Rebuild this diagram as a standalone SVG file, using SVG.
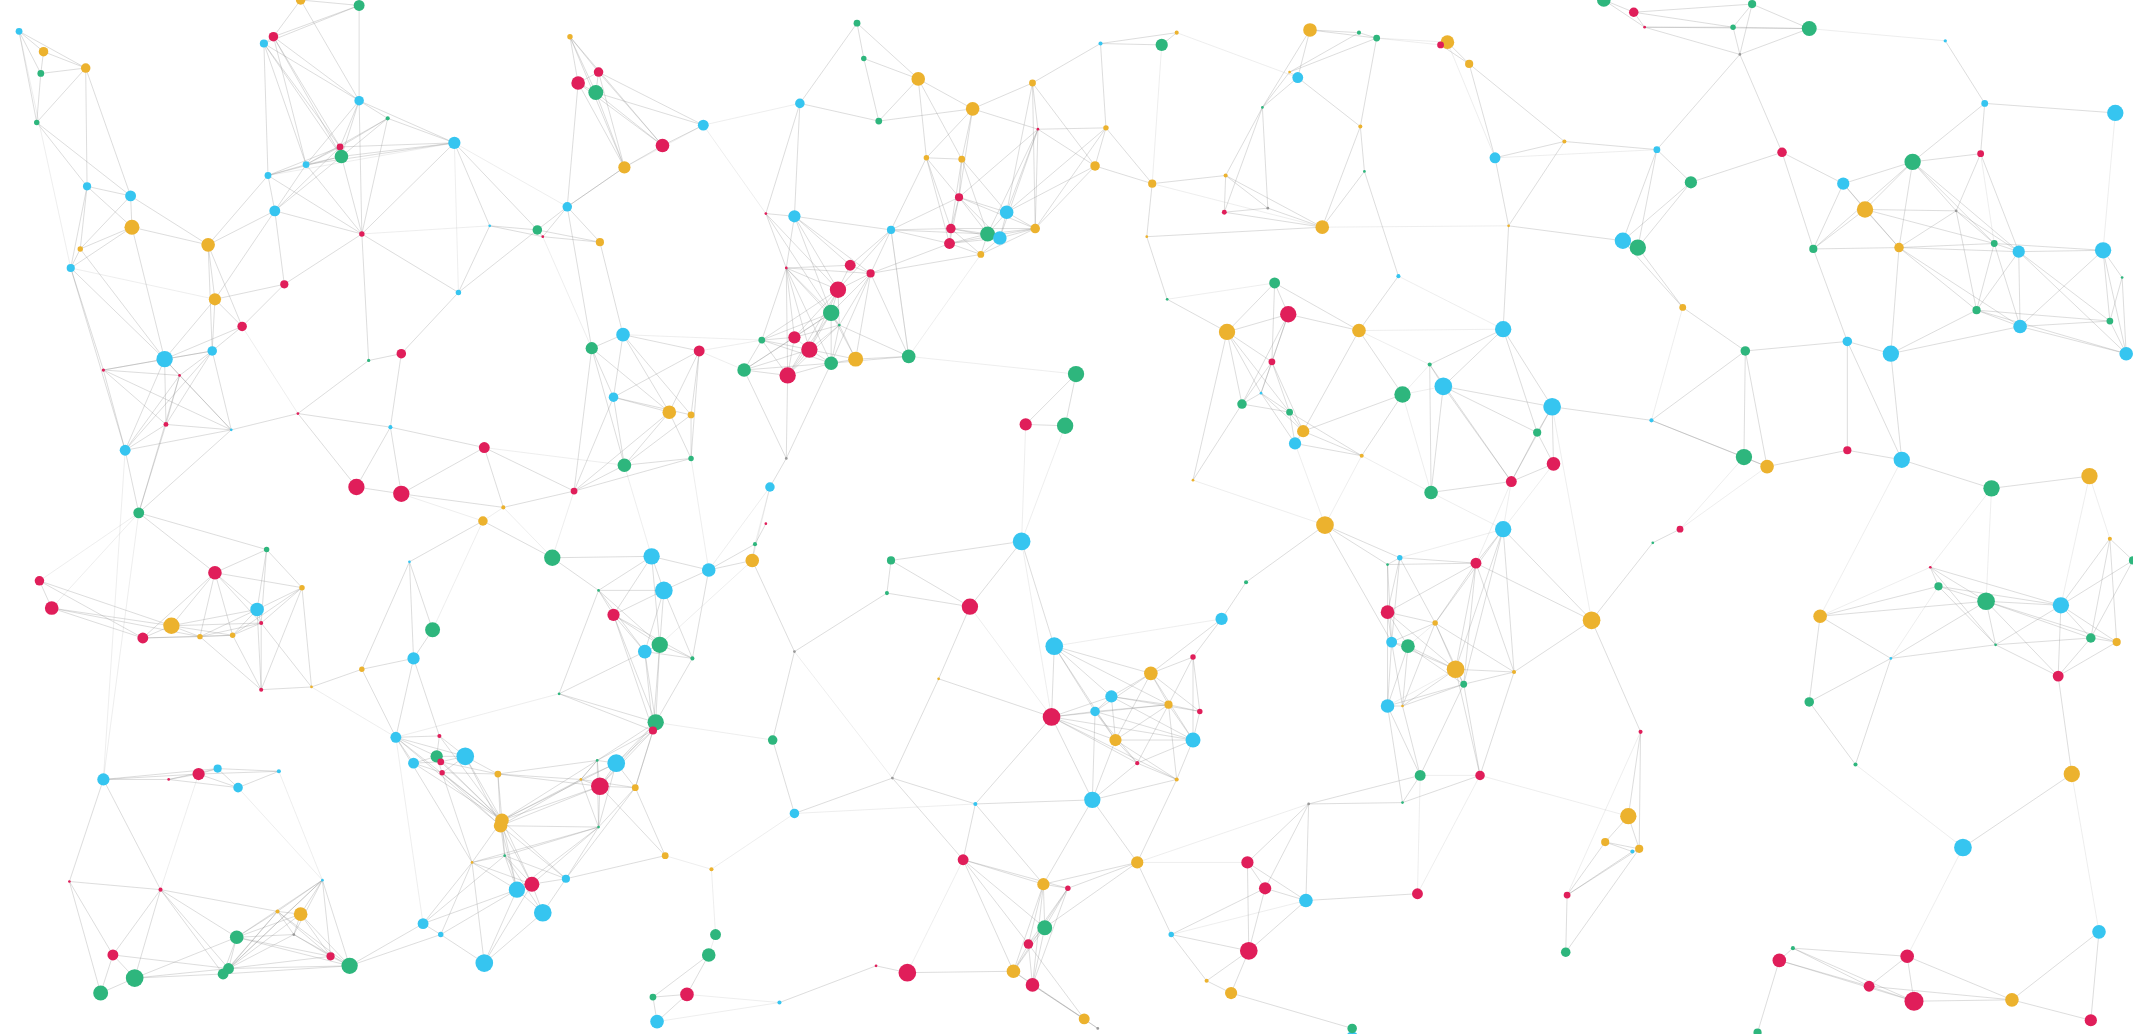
<svg xmlns="http://www.w3.org/2000/svg" width="2133" height="1034" viewBox="0 0 2133 1034">
<style>
.b{fill:#36c5f0}.g{fill:#2eb67d}.r{fill:#e01e5a}.y{fill:#ecb22e}.k{fill:#999}
.e1{fill:none;stroke:#8c8c8c;stroke-opacity:.34;stroke-width:.65}
.e2{fill:none;stroke:#a0a0a0;stroke-opacity:.22;stroke-width:.6}
</style>
<rect width="2133" height="1034" fill="#fff"/>
<g transform="scale(1.36033)">
<g id="connectors">
<path class="e1" d="M14 23L32 38M14 23L30 54M14 23L63 50M14 23L27 90M32 38L30 54M32 38L63 50M30 54L63 50M30 54L27 90M63 50L27 90M27 90L64 137M27 90L96 144M63 50L64 137M63 50L96 144M221 0L264 4M221 0L201 27M264 4L201 27M264 4L194 32M201 27L194 32M221 0L264 74M264 4L264 74M201 27L264 74M194 32L264 74M194 32L197 129M201 27L251 115M194 32L250 108M264 74L285 87M264 74L250 108M264 74L251 115M264 74L225 121M264 74L334 105M285 87L334 105M285 87L251 115M285 87L250 108M285 87L225 121M251 115L225 121M250 108L225 121M251 115L197 129M225 121L197 129M250 108L197 129M197 129L202 155M225 121L202 155M251 115L202 155M251 115L334 105M334 105L266 172M264 74L266 172M251 115L266 172M334 105L360 166M334 105L395 169M202 155L266 172M202 155L153 180M202 155L209 209M197 129L153 180M202 155L158 220M64 137L96 144M64 137L97 167M64 137L59 183M64 137L52 197M96 144L97 167M96 144L153 180M96 144L59 183M97 167L153 180M97 167L59 183M97 167L52 197M153 180L158 220M153 180L178 240M59 183L52 197M52 197L76 272M266 172L209 209M209 209L178 240M209 209L158 220M158 220L178 240M266 172L337 215M337 215L360 166M337 215L295 260M337 215L395 169M360 166L395 169M360 166L399 174M395 169L399 174M395 169L441 178M399 174L441 178M395 169L417 152M417 152L441 178M417 152L459 123M399 174L417 152M419 27L440 53M419 27L425 61M419 27L438 68M440 53L425 61M440 53L438 68M425 61L438 68M440 53L487 107M438 68L487 107M438 68L459 123M425 61L459 123M487 107L459 123M517 92L487 107M438 68L517 92M440 53L517 92M425 61L417 152M459 123L417 152M441 178L458 246M417 152L435 256M458 246L435 256M458 246L514 258M458 246L451 292M435 256L451 292M514 258L492 303M514 258L508 305M451 292L492 303M451 292L508 305M458 246L492 303M451 292L459 342M492 303L459 342M508 305L459 342M492 303L508 337M508 305L508 337M459 342L508 337M459 342L422 361M451 292L422 361M508 337L422 361M422 361L370 373M422 361L356 329M370 373L356 329M356 329L295 363M370 373L295 363M287 314L262 358M287 314L295 363M287 314L356 329M287 314L295 260M287 314L219 304M262 358L295 363M262 358L219 304M271 265L295 260M271 265L219 304M266 172L271 265M219 304L170 316M121 264L156 258M121 264L76 272M121 264L132 276M121 264L122 312M156 258L132 276M156 258L122 312M156 258L170 316M156 258L178 240M156 258L158 220M121 264L158 220M121 264L178 240M132 276L122 312M76 272L122 312M76 272L170 316M122 312L170 316M122 312L92 331M132 276L92 331M156 258L92 331M170 316L92 331M92 331L102 377M122 312L102 377M52 197L92 331"/>
<path class="e1" d="M630 17L635 43M630 17L675 58M630 17L588 76M635 43L675 58M635 43L646 89M588 76L646 89M675 58L646 89M675 58L715 80M715 80L646 89M675 58L681 116M715 80L681 116M715 80L707 117M675 58L707 117M715 80L759 61M759 61L763 95M759 61L809 32M759 61L805 122M759 61L740 156M715 80L763 95M763 95L805 122M763 95L813 94M813 94L805 122M813 94L847 135M809 32L854 33M809 32L865 24M854 33L865 24M809 32L813 94M963 22L999 24M963 22L1012 28M963 22L954 57M999 24L1012 28M999 24L948 53M1012 28L948 53M954 57L948 53M954 57L928 79M948 53L928 79M963 22L928 79M954 57L1000 93M1012 28L1000 93M928 79L901 129M928 79L900 156M1000 93L1003 126M928 79L932 153M901 129L900 156M901 129L847 135M847 135L805 122M901 129L932 153M900 156L932 153M932 153L972 167M900 156L972 167M901 129L972 167M1000 93L972 167M1003 126L972 167M1003 126L1028 203M681 116L707 117M681 116L705 145M707 117L705 145M681 116L655 169M707 117L699 168M705 145L699 168M705 145L740 156M705 145L726 172M705 145L735 175M705 145L698 179M699 168L698 179M699 168L726 172M698 179L726 172M726 172L735 175M699 168L735 175M735 175L761 168M740 156L761 168M726 172L761 168M740 156L726 172M740 156L735 175M698 179L721 187M726 172L721 187M735 175L721 187M761 168L721 187M763 95L740 156M763 95L761 168M805 122L761 168M655 169L699 168M655 169L698 179M655 169L625 195M655 169L640 201M584 159L655 169M563 157L584 159M563 157L578 197M584 159L578 197M584 159L625 195M584 159L616 213M578 197L625 195M578 197L616 213M578 197L611 230M578 197L584 248M625 195L640 201M625 195L616 213M640 201L616 213M616 213L611 230M640 201L611 230M611 230L617 239M611 230L584 248M611 230L595 257M611 230L579 276M611 230L611 267M616 213L595 257M617 239L595 257M584 248L595 257M584 248L560 250M595 257L579 276M560 250L547 272M560 250L579 276M547 272L579 276M595 257L611 267M579 276L611 267M611 267L629 264M611 230L629 264M629 264L668 262M611 267L668 262M640 201L629 264M640 201L668 262M721 187L640 201M588 76L584 159M588 76L563 157M843 174L847 135M843 174L972 167M843 174L858 220M858 220L902 244M937 208L947 231M937 208L902 244M947 231L902 244M947 231L999 243M937 208L999 243M947 231L935 266M902 244L935 266M947 231L927 289M935 266L927 289M902 244L913 297M927 289L913 297M927 289L948 303M913 297L948 303M948 303L958 317M948 303L952 326M958 317L952 326M935 266L948 303M999 243L1031 290M1028 203L999 243M1031 290L958 317M1031 290L1001 335M952 326L1001 335M958 317L1001 335M902 244L877 353M913 297L877 353M791 275L754 312M791 275L783 313M754 312L783 313M547 272L578 337M579 276L578 337M578 337L566 358M611 267L578 337"/>
<path class="e1" d="M1179 0L1201 9M1179 0L1209 20M1201 9L1209 20M1201 9L1288 3M1201 9L1274 20M1209 20L1274 20M1209 20L1330 21M1288 3L1274 20M1288 3L1330 21M1274 20L1330 21M1274 20L1279 40M1330 21L1279 40M1288 3L1279 40M1209 20L1279 40M1430 30L1459 76M1459 76L1555 83M1459 76L1406 119M1459 76L1456 113M1064 31L1059 33M1064 31L1080 47M1059 33L1080 47M1080 47L1150 104M1080 47L1099 116M1150 104L1099 116M1150 104L1218 110M1150 104L1109 166M1099 116L1109 166M1109 166L1193 177M1218 110L1243 134M1218 110L1193 177M1218 110L1204 182M1243 134L1193 177M1243 134L1204 182M1243 134L1310 112M1310 112L1355 135M1310 112L1333 183M1279 40L1218 110M1279 40L1310 112M1406 119L1456 113M1406 119L1355 135M1406 119L1371 154M1406 119L1438 155M1456 113L1438 155M1355 135L1371 154M1355 135L1333 183M1371 154L1333 183M1371 154L1396 182M1371 154L1438 155M1438 155L1396 182M1438 155L1466 179M1438 155L1484 185M1406 119L1396 182M1396 182L1466 179M1396 182L1484 185M1466 179L1484 185M1466 179L1453 228M1484 185L1453 228M1484 185L1546 184M1546 184L1560 204M1546 184L1551 236M1560 204L1551 236M1560 204L1563 260M1551 236L1563 260M1485 240L1551 236M1485 240L1453 228M1485 240L1563 260M1484 185L1485 240M1546 184L1485 240M1438 155L1453 228M1333 183L1396 182M1333 183L1358 251M1396 182L1390 260M1193 177L1204 182M1204 182L1237 226M1237 226L1283 258M1193 177L1237 226M1105 242L1051 268M1105 242L1061 284M1051 268L1061 284M1105 242L1109 166M1105 242L1141 299M1061 284L1141 299M1061 284L1130 318M1141 299L1130 318M1130 318L1142 341M1130 318L1111 354M1142 341L1111 354M1141 299L1142 341M1061 284L1111 354M1061 284L1052 362M1111 354L1052 362M1283 258L1358 251M1358 251L1390 260M1283 258L1214 309M1214 309L1282 336M1283 258L1282 336M1282 336L1299 343M1299 343L1358 331M1358 331L1398 338M1390 260L1398 338M1358 251L1358 331M1398 338L1464 359M1464 359L1536 350M1453 228L1390 260M1485 240L1390 260M1214 309L1141 299M1214 309L1299 343"/>
<path class="e1" d="M355 383L406 410M102 377L196 404M102 377L158 421M196 404L158 421M196 404L222 432M196 404L189 448M196 404L192 458M29 427L38 447M38 447L126 460M38 447L105 469M158 421L189 448M158 421L126 460M158 421L105 469M158 421L147 468M158 421L171 467M189 448L192 458M189 448L222 432M189 448L126 460M189 448L171 467M192 458L126 460M192 458L147 468M192 458L171 467M126 460L105 469M126 460L147 468M105 469L147 468M147 468L171 467M222 432L192 458M222 432L192 507M222 432L229 505M192 458L192 507M189 448L192 507M171 467L192 507M192 458L229 505M192 507L229 505M266 492L229 505M266 492L304 484M301 413L266 492M301 413L304 484M301 413L318 463M355 383L301 413M318 463L304 484M304 484L291 542M266 492L291 542M304 484L323 541M406 410L479 409M406 410L440 434M440 434L488 434M440 434L451 452M479 409L488 434M479 409L521 419M488 434L521 419M488 434L451 452M488 434L474 479M488 434L485 474M451 452L474 479M451 452L485 474M474 479L485 474M485 474L509 484M474 479L509 484M509 484L521 419M485 474L482 531M474 479L482 531M440 434L474 479M474 479L480 537M482 531L480 537M509 484L482 531M411 510L482 531M440 434L411 510M291 542L323 541M291 542L321 556M291 542L342 556M291 542L304 561M323 541L321 556M323 541L342 556M321 556L342 556M321 556L324 560M342 556L324 560M324 560L304 561M321 556L304 561M304 561L325 568M342 556L325 568M342 556L366 569M324 560L366 569M325 568L366 569M325 568L369 603M366 569L369 603M366 569L368 607M342 556L369 603M439 559L453 561M439 559L441 578M439 559L427 573M453 561L441 578M441 578L427 573M453 561L467 579M441 578L467 579M480 537L453 561M480 537L441 578M482 531L453 561M427 573L369 603M427 573L368 607M427 573L366 569M369 603L368 607M368 607L440 608M441 578L440 608M467 579L440 608M440 608L416 646M368 607L371 629M369 603L371 629M371 629L391 650M371 629L380 654M368 607L391 650M368 607L380 654M347 634L371 629M347 634L391 650M347 634L380 654M391 650L380 654M391 650L416 646M391 650L399 671M380 654L399 671M416 646L399 671M416 646L489 629M489 629L467 579M489 629L441 578M311 679L324 687M311 679L347 634M324 687L356 708M399 671L356 708M380 654L356 708M76 573L124 573M124 573L146 569M146 569L160 565M146 569L175 579M160 565L205 567M160 565L175 579M205 567L175 579M124 573L160 565M76 573L51 648M76 573L118 654M51 648L118 654M51 648L83 702M51 648L74 730M118 654L83 702M118 654L174 689M118 654L99 719M237 647L204 670M237 647L221 672M237 647L174 689M237 647L243 703M237 647L257 710M204 670L221 672M204 670L174 689M204 670L216 687M204 670L168 712M204 670L164 716M221 672L216 687M221 672L243 703M221 672L257 710M174 689L216 687M174 689L168 712M174 689L164 716M216 687L243 703M216 687L168 712M243 703L257 710M216 687L257 710M83 702L99 719M83 702L74 730M99 719L74 730M99 719L168 712M99 719L164 716M168 712L164 716M257 710L311 679M324 687L257 710M480 733L505 731M480 733L483 751M505 731L483 751M505 731L521 702M480 733L521 702"/>
<path class="e1" d="M555 400L553 412M555 400L563 385M553 412L521 419M521 419L555 400M553 412L584 479M655 412L652 436M655 412L713 446M655 412L751 398M652 436L713 446M751 398L713 446M751 398L775 475M713 446L690 499M652 436L584 479M584 479L568 544M690 499L773 527M690 499L656 572M568 544L584 598M584 598L656 572M656 572L717 591M656 572L708 632M775 475L773 527M775 475L817 512M775 475L805 523M775 475L846 495M773 527L817 512M773 527L805 523M773 527L820 544M773 527L803 588M773 527L717 591M817 512L805 523M817 512L846 495M817 512L859 518M817 512L882 523M817 512L820 544M817 512L877 544M805 523L846 495M805 523L859 518M805 523L820 544M805 523L877 544M805 523L836 561M805 523L803 588M846 495L877 483M846 495L859 518M846 495L882 523M846 495L820 544M846 495L877 544M846 495L898 455M877 483L859 518M877 483L882 523M877 483L877 544M877 483L898 455M859 518L882 523M859 518L820 544M859 518L877 544M859 518L836 561M859 518L865 573M882 523L877 544M820 544L877 544M820 544L836 561M820 544L865 573M877 544L836 561M877 544L865 573M836 561L865 573M820 544L803 588M836 561L803 588M865 573L803 588M865 573L836 634M803 588L836 634M803 588L767 650M898 455L916 428M916 428L974 386M717 591L803 588M717 591L708 632M717 591L767 650M708 632L767 650M708 632L785 653M767 650L785 653M767 650L836 634M785 653L768 682M767 650L768 682M767 650L756 694M836 634L861 687M917 634L930 653M917 634L960 662M930 653L960 662M917 634L962 591M962 591L930 653M962 591L960 662M962 591L1044 570M1031 590L1044 570M1031 590L962 591M960 662L1042 657M930 653L918 699M861 687L918 699M861 687L887 721M918 699L887 721M918 699L905 730M887 721L905 730M960 662L918 699M768 682L756 694M768 682L745 714M768 682L759 724M756 694L745 714M756 694L759 724M745 714L759 724M759 724L797 749M759 724L807 756M745 714L797 749M667 715L644 710M667 715L745 714M644 710L573 737M974 386L1020 415M974 386L1029 410M974 386L1023 472M1029 410L1020 450M1020 415L1020 450M1020 450L1023 472M1020 450L1035 475M1023 472L1035 475M1023 472L1020 519M1035 475L1020 519M1020 519L1031 519M1035 475L1031 519M1044 570L1020 519M1044 570L1031 519M905 730L994 756M807 756L797 749"/>
<path class="e1" d="M1105 389L1085 414M1105 389L1055 458M1105 389L1070 492M1105 389L1170 456M1085 414L1055 458M1085 414L1070 492M1085 414L1076 503M1085 414L1113 494M1055 458L1070 492M1070 492L1076 503M1070 492L1113 494M1076 503L1113 494M1113 494L1170 456M1235 389L1215 399M1215 399L1170 456M1076 503L1088 570M1113 494L1088 570M1055 458L1076 503M1070 492L1088 570M1170 456L1206 538M1206 538L1197 600M1206 538L1205 624M1197 600L1180 619M1197 600L1205 624M1180 619L1200 626M1180 619L1205 624M1200 626L1205 624M1180 619L1152 658M1200 626L1152 658M1205 624L1152 658M1152 658L1151 700M1205 624L1151 700M1338 453L1425 431M1338 453L1390 484M1338 453L1330 516M1419 417L1425 431M1419 417L1460 442M1419 417L1467 474M1425 431L1460 442M1425 431L1467 474M1460 442L1515 445M1460 442L1467 474M1460 442L1513 497M1515 445L1537 469M1515 445L1556 472M1515 445L1513 497M1515 445L1551 396M1551 396L1537 469M1551 396L1556 472M1568 412L1537 469M1537 469L1556 472M1467 474L1515 445M1537 469L1513 497M1556 472L1513 497M1390 484L1467 474M1390 484L1330 516M1390 484L1364 562M1513 497L1523 569M1523 569L1443 623M1318 697L1308 706M1318 697L1402 703M1318 697L1407 736M1308 706L1292 759M1308 706L1374 725M1402 703L1374 725M1402 703L1407 736M1374 725L1407 736M1407 736L1479 735M1402 703L1479 735M1479 735L1543 685M1479 735L1537 750M1543 685L1537 750M1330 516L1364 562"/>
<path class="e1" d="M201 27L250 108M201 27L225 121M194 32L225 121M194 32L251 115M250 108L251 115M250 108L202 155M225 121L334 105M285 87L266 172M250 108L334 105M197 129L266 172M225 121L266 172M419 27L487 107M419 27L459 123M440 53L459 123M425 61L487 107M458 246L508 305M435 256L492 303M435 256L459 342M514 258L451 292M514 258L508 337M435 256L422 361M492 303L422 361M121 264L170 316M76 272L132 276M76 272L156 258M76 272L92 331M132 276L170 316M121 264L92 331M132 276L102 377M170 316L102 377M52 197L121 264M97 167L121 264M153 180L156 258M59 183L121 264M707 117L740 156M707 117L726 172M681 116L699 168M681 116L698 179M705 145L761 168M699 168L761 168M699 168L721 187M698 179L735 175M698 179L761 168M655 169L726 172M655 169L705 145M763 95L705 145M763 95L726 172M763 95L735 175M805 122L740 156M759 61L761 168M715 80L705 145M813 94L761 168M813 94L740 156M563 157L611 230M563 157L616 213M584 159L640 201M584 159L611 230M655 169L616 213M655 169L668 262M578 197L640 201M578 197L617 239M578 197L595 257M578 197L579 276M578 197L560 250M578 197L611 267M640 201L617 239M640 201L611 267M616 213L617 239M616 213L584 248M616 213L560 250M616 213L579 276M611 230L560 250M611 230L547 272M617 239L584 248M617 239L579 276M617 239L611 267M617 239L629 264M617 239L668 262M584 248L547 272M584 248L579 276M595 257L560 250M595 257L547 272M595 257L629 264M547 272L611 267M560 250L611 267M698 179L640 201M937 208L935 266M902 244L927 289M947 231L913 297M935 266L913 297M927 289L958 317M927 289L952 326M935 266L958 317M948 303L1001 335M999 243L958 317M902 244L948 303M1406 119L1333 183M1406 119L1466 179M1406 119L1484 185M1456 113L1484 185M1355 135L1396 182M1371 154L1466 179M1396 182L1453 228M1396 182L1485 240M1466 179L1485 240M1466 179L1546 184M1484 185L1551 236M1484 185L1563 260M1453 228L1551 236M1453 228L1563 260M1546 184L1563 260M1105 242L1130 318M1051 268L1052 362M1051 268L1111 354M1141 299L1111 354M1358 251L1398 338M1283 258L1299 343"/>
<path class="e1" d="M440 434L485 474M451 452L509 484M451 452L482 531M488 434L509 484M474 479L411 510M451 452L480 537M411 510L480 537M485 474L480 537M479 409L451 452M479 409L440 434M479 409L485 474M323 541L369 603M321 556L369 603M291 542L369 603M304 561L369 603M324 560L369 603M325 568L368 607M291 542L368 607M342 556L368 607M347 634L369 603M347 634L321 556M347 634L291 542M347 634L440 608M371 629L440 608M368 607L416 646M369 603L416 646M369 603L391 650M369 603L380 654M371 629L416 646M371 629L399 671M347 634L356 708M347 634L324 687M311 679L380 654M311 679L371 629M324 687L380 654M356 708L391 650M416 646L467 579M391 650L440 608M380 654L440 608M440 608L439 559M440 608L453 561M427 573L440 608M427 573L439 559M427 573L453 561M427 573L467 579M366 569L439 559M366 569L441 578M369 603L439 559M369 603L453 561M369 603L441 578M368 607L441 578M482 531L439 559M480 537L439 559M482 531L441 578M467 579L480 537M467 579L482 531M237 647L216 687M237 647L168 712M237 647L164 716M221 672L174 689M221 672L168 712M174 689L243 703M174 689L257 710M204 670L243 703M204 670L257 710M243 703L168 712M257 710L168 712M257 710L164 716M174 689L99 719M83 702L168 712M118 654L168 712M118 654L164 716M118 654L204 670M76 573L146 569M76 573L160 565M124 573L175 579M146 569L205 567M158 421L192 458M158 421L222 432M189 448L147 468M126 460L171 467M105 469L171 467M38 447L147 468M29 427L126 460M29 427L105 469M222 432L171 467M147 468L192 507"/>
<path class="e1" d="M775 475L859 518M775 475L820 544M773 527L859 518M773 527L877 544M773 527L836 561M773 527L865 573M767 650L745 714M767 650L759 724M785 653L756 694M785 653L745 714M785 653L759 724M708 632L768 682M708 632L756 694M708 632L745 714M756 694L797 749M836 634L768 682M836 634L785 653M917 634L918 699M930 653L861 687M1029 410L1085 414M1020 415L1085 414M1020 450L1055 458M1020 450L1070 492M1023 472L1055 458M1023 472L1070 492M1035 475L1070 492M1020 519L1076 503M1031 519L1070 492M1031 519L1076 503M1031 519L1055 458M1044 570L1076 503M1031 590L1088 570M1029 410L1023 472M1020 415L1023 472M1029 410L1020 415M1020 450L1020 519M1023 472L1031 519M1020 519L1031 590M1085 414L1170 456M1055 458L1113 494M1105 389L1076 503M1105 389L1113 494M1035 475L1076 503M1020 450L1085 414M1029 410L1055 458M1425 431L1515 445M1419 417L1515 445M1460 442L1537 469M1460 442L1556 472M1467 474L1513 497M1467 474L1537 469M1515 445L1568 412M1551 396L1568 412M1390 484L1460 442M1338 453L1460 442M1308 706L1407 736M1318 697L1374 725M1374 725L1479 735"/>
<path class="e2" d="M14 23L52 197M197 129L334 105M334 105L337 215M266 172L360 166M52 197L158 220M517 92L459 123M399 174L435 256M356 329L459 342M178 240L219 304M517 92L588 76M514 258L560 250M514 258L547 272M560 250L458 246M854 33L847 135M865 24L954 57M858 220L937 208M668 262L791 275M668 262L721 187M668 262L655 169M847 135L972 167M1330 21L1430 30M1064 31L1099 116M1555 83L1546 184M1012 28L1064 31M1012 28L1059 33M972 167L1109 166M999 243L1105 242M999 243L1051 268M1031 290L1051 268M1031 290L1061 284M1028 203L1105 242M1001 335L1052 362M1031 290L1052 362M1456 113L1466 179M102 377L29 427M102 377L76 573M102 377L38 447M175 579L237 647M205 567L237 647M355 383L318 463M355 383L295 363M355 383L370 373M370 373L406 410M422 361L406 410M459 342L479 409M508 337L521 419M411 510L291 542M92 331L76 573M146 569L118 654M311 679L291 542M229 505L291 542M566 358L553 412M566 358L555 400M754 312L751 398M783 313L751 398M952 326L974 386M1001 335L974 386M521 702L526 687M523 639L526 687M489 629L523 639M483 751L573 737M505 731L573 737M584 598L523 639M898 455L775 475M836 634L917 634M1044 570L1042 657M751 398L773 527M482 531L568 544M485 474L553 412M713 446L773 527M861 687L960 662M962 591L836 634M584 598L717 591M708 632L667 715M1443 623L1402 703M1052 362L1105 389M1111 354L1105 389M1111 354L1085 414M1282 336L1235 389M1299 343L1235 389M1398 338L1338 453M1464 359L1460 442M1536 350L1515 445M1464 359L1419 417M1536 350L1551 396M1035 475L1055 458M1044 570L1088 570M1020 519L1070 492M1042 657L1088 570M1029 410L1105 389M1142 341L1105 389M1088 570L1197 600M1141 299L1170 456M1523 569L1543 685M1364 562L1443 623M1419 417L1338 453M1425 431L1390 484M1206 538L1152 658M1099 116L1218 110M877 353L974 386M1237 226L1214 309M334 105L417 152M517 92L563 157M566 358L521 419M656 572L584 479"/>
</g>
<g id="nodes">
<g id="n1" class="b"><circle cx="14" cy="23" r="2.5"/></g>
<g id="n2" class="y"><circle cx="32" cy="38" r="3.5"/></g>
<g id="n3" class="g"><circle cx="30" cy="54" r="2.5"/></g>
<g id="n4" class="y"><circle cx="63" cy="50" r="3.5"/></g>
<g id="n5" class="g"><circle cx="27" cy="90" r="2"/></g>
<g id="n6" class="y"><circle cx="221" cy="0" r="3.5"/></g>
<g id="n7" class="g"><circle cx="264" cy="4" r="4"/></g>
<g id="n8" class="r"><circle cx="201" cy="27" r="3.5"/></g>
<g id="n9" class="b"><circle cx="194" cy="32" r="3"/></g>
<g id="n10" class="b"><circle cx="264" cy="74" r="3.5"/></g>
<g id="n11" class="g"><circle cx="285" cy="87" r="1.5"/></g>
<g id="n12" class="r"><circle cx="250" cy="108" r="2.5"/></g>
<g id="n13" class="g"><circle cx="251" cy="115" r="5"/></g>
<g id="n14" class="b"><circle cx="225" cy="121" r="2.5"/></g>
<g id="n15" class="b"><circle cx="197" cy="129" r="2.5"/></g>
<g id="n16" class="b"><circle cx="334" cy="105" r="4.5"/></g>
<g id="n17" class="b"><circle cx="202" cy="155" r="4"/></g>
<g id="n18" class="r"><circle cx="266" cy="172" r="2"/></g>
<g id="n19" class="b"><circle cx="64" cy="137" r="3"/></g>
<g id="n20" class="b"><circle cx="96" cy="144" r="4"/></g>
<g id="n21" class="y"><circle cx="97" cy="167" r="5.5"/></g>
<g id="n22" class="y"><circle cx="153" cy="180" r="5"/></g>
<g id="n23" class="y"><circle cx="59" cy="183" r="2"/></g>
<g id="n24" class="b"><circle cx="52" cy="197" r="3"/></g>
<g id="n25" class="r"><circle cx="209" cy="209" r="3"/></g>
<g id="n26" class="y"><circle cx="158" cy="220" r="4.5"/></g>
<g id="n27" class="r"><circle cx="178" cy="240" r="3.5"/></g>
<g id="n28" class="b"><circle cx="337" cy="215" r="2"/></g>
<g id="n29" class="b"><circle cx="360" cy="166" r="1"/></g>
<g id="n30" class="g"><circle cx="395" cy="169" r="3.5"/></g>
<g id="n31" class="r"><circle cx="399" cy="174" r="1"/></g>
<g id="n32" class="y"><circle cx="441" cy="178" r="3"/></g>
<g id="n33" class="y"><circle cx="419" cy="27" r="2"/></g>
<g id="n34" class="r"><circle cx="440" cy="53" r="3.5"/></g>
<g id="n35" class="r"><circle cx="425" cy="61" r="5"/></g>
<g id="n36" class="g"><circle cx="438" cy="68" r="5.5"/></g>
<g id="n37" class="b"><circle cx="517" cy="92" r="4"/></g>
<g id="n38" class="r"><circle cx="487" cy="107" r="5"/></g>
<g id="n39" class="y"><circle cx="459" cy="123" r="4.5"/></g>
<g id="n40" class="b"><circle cx="417" cy="152" r="3.5"/></g>
<g id="n41" class="b"><circle cx="458" cy="246" r="5"/></g>
<g id="n42" class="g"><circle cx="435" cy="256" r="4.5"/></g>
<g id="n43" class="r"><circle cx="514" cy="258" r="4"/></g>
<g id="n44" class="b"><circle cx="451" cy="292" r="3.5"/></g>
<g id="n45" class="y"><circle cx="492" cy="303" r="5"/></g>
<g id="n46" class="y"><circle cx="508" cy="305" r="2.5"/></g>
<g id="n47" class="g"><circle cx="459" cy="342" r="5"/></g>
<g id="n48" class="g"><circle cx="508" cy="337" r="2"/></g>
<g id="n49" class="r"><circle cx="422" cy="361" r="2.5"/></g>
<g id="n50" class="y"><circle cx="370" cy="373" r="1.5"/></g>
<g id="n51" class="r"><circle cx="356" cy="329" r="4"/></g>
<g id="n52" class="b"><circle cx="287" cy="314" r="1.5"/></g>
<g id="n53" class="r"><circle cx="262" cy="358" r="6"/></g>
<g id="n54" class="r"><circle cx="295" cy="363" r="6"/></g>
<g id="n55" class="g"><circle cx="271" cy="265" r="1.2"/></g>
<g id="n56" class="r"><circle cx="295" cy="260" r="3.5"/></g>
<g id="n57" class="r"><circle cx="219" cy="304" r="1"/></g>
<g id="n58" class="b"><circle cx="121" cy="264" r="6"/></g>
<g id="n59" class="b"><circle cx="156" cy="258" r="3.5"/></g>
<g id="n60" class="r"><circle cx="76" cy="272" r="1.2"/></g>
<g id="n61" class="r"><circle cx="132" cy="276" r="1"/></g>
<g id="n62" class="r"><circle cx="122" cy="312" r="1.8"/></g>
<g id="n63" class="b"><circle cx="170" cy="316" r="1"/></g>
<g id="n64" class="b"><circle cx="92" cy="331" r="4"/></g>
<g id="n65" class="g"><circle cx="102" cy="377" r="4"/></g>
<g id="n66" class="g"><circle cx="630" cy="17" r="2.5"/></g>
<g id="n67" class="g"><circle cx="635" cy="43" r="2"/></g>
<g id="n68" class="y"><circle cx="675" cy="58" r="5"/></g>
<g id="n69" class="b"><circle cx="588" cy="76" r="3.5"/></g>
<g id="n70" class="y"><circle cx="715" cy="80" r="5"/></g>
<g id="n71" class="g"><circle cx="646" cy="89" r="2.5"/></g>
<g id="n72" class="y"><circle cx="759" cy="61" r="2.5"/></g>
<g id="n73" class="b"><circle cx="809" cy="32" r="1.5"/></g>
<g id="n74" class="g"><circle cx="854" cy="33" r="4.5"/></g>
<g id="n75" class="y"><circle cx="865" cy="24" r="1.5"/></g>
<g id="n76" class="y"><circle cx="963" cy="22" r="5"/></g>
<g id="n77" class="g"><circle cx="999" cy="24" r="1.5"/></g>
<g id="n78" class="g"><circle cx="1012" cy="28" r="2.5"/></g>
<g id="n79" class="b"><circle cx="954" cy="57" r="4"/></g>
<g id="n80" class="y"><circle cx="948" cy="53" r="1"/></g>
<g id="n81" class="g"><circle cx="928" cy="79" r="1"/></g>
<g id="n82" class="r"><circle cx="763" cy="95" r="1"/></g>
<g id="n83" class="y"><circle cx="813" cy="94" r="2"/></g>
<g id="n84" class="y"><circle cx="1000" cy="93" r="1.5"/></g>
<g id="n85" class="y"><circle cx="681" cy="116" r="2"/></g>
<g id="n86" class="y"><circle cx="707" cy="117" r="2.5"/></g>
<g id="n87" class="y"><circle cx="805" cy="122" r="3.5"/></g>
<g id="n88" class="y"><circle cx="847" cy="135" r="3"/></g>
<g id="n89" class="y"><circle cx="901" cy="129" r="1.5"/></g>
<g id="n90" class="g"><circle cx="1003" cy="126" r="1"/></g>
<g id="n91" class="r"><circle cx="900" cy="156" r="1.8"/></g>
<g id="n92" class="k"><circle cx="932" cy="153" r="1"/></g>
<g id="n93" class="y"><circle cx="972" cy="167" r="5"/></g>
<g id="n94" class="r"><circle cx="705" cy="145" r="3"/></g>
<g id="n95" class="b"><circle cx="740" cy="156" r="5"/></g>
<g id="n96" class="r"><circle cx="563" cy="157" r="1"/></g>
<g id="n97" class="b"><circle cx="584" cy="159" r="4.5"/></g>
<g id="n98" class="b"><circle cx="655" cy="169" r="3"/></g>
<g id="n99" class="r"><circle cx="699" cy="168" r="3.5"/></g>
<g id="n100" class="r"><circle cx="698" cy="179" r="4"/></g>
<g id="n101" class="g"><circle cx="726" cy="172" r="5.5"/></g>
<g id="n102" class="b"><circle cx="735" cy="175" r="5"/></g>
<g id="n103" class="y"><circle cx="761" cy="168" r="3.5"/></g>
<g id="n104" class="y"><circle cx="721" cy="187" r="2.5"/></g>
<g id="n105" class="y"><circle cx="843" cy="174" r="1"/></g>
<g id="n106" class="r"><circle cx="578" cy="197" r="1"/></g>
<g id="n107" class="r"><circle cx="625" cy="195" r="4"/></g>
<g id="n108" class="r"><circle cx="640" cy="201" r="3"/></g>
<g id="n109" class="r"><circle cx="616" cy="213" r="6"/></g>
<g id="n110" class="g"><circle cx="611" cy="230" r="6"/></g>
<g id="n111" class="g"><circle cx="617" cy="239" r="1"/></g>
<g id="n112" class="r"><circle cx="584" cy="248" r="4.5"/></g>
<g id="n113" class="r"><circle cx="595" cy="257" r="6"/></g>
<g id="n114" class="g"><circle cx="560" cy="250" r="2.5"/></g>
<g id="n115" class="g"><circle cx="547" cy="272" r="5"/></g>
<g id="n116" class="r"><circle cx="579" cy="276" r="6"/></g>
<g id="n117" class="g"><circle cx="611" cy="267" r="5"/></g>
<g id="n118" class="y"><circle cx="629" cy="264" r="5.5"/></g>
<g id="n119" class="g"><circle cx="668" cy="262" r="5"/></g>
<g id="n120" class="g"><circle cx="791" cy="275" r="6"/></g>
<g id="n121" class="r"><circle cx="754" cy="312" r="4.5"/></g>
<g id="n122" class="g"><circle cx="783" cy="313" r="6"/></g>
<g id="n123" class="g"><circle cx="858" cy="220" r="1"/></g>
<g id="n124" class="g"><circle cx="937" cy="208" r="4"/></g>
<g id="n125" class="r"><circle cx="947" cy="231" r="6"/></g>
<g id="n126" class="y"><circle cx="902" cy="244" r="6"/></g>
<g id="n127" class="y"><circle cx="999" cy="243" r="5"/></g>
<g id="n128" class="b"><circle cx="1028" cy="203" r="1.5"/></g>
<g id="n129" class="r"><circle cx="935" cy="266" r="2.5"/></g>
<g id="n130" class="g"><circle cx="1031" cy="290" r="6"/></g>
<g id="n131" class="b"><circle cx="927" cy="289" r="1"/></g>
<g id="n132" class="g"><circle cx="913" cy="297" r="3.5"/></g>
<g id="n133" class="g"><circle cx="948" cy="303" r="2.5"/></g>
<g id="n134" class="y"><circle cx="958" cy="317" r="4.5"/></g>
<g id="n135" class="b"><circle cx="952" cy="326" r="4.5"/></g>
<g id="n136" class="y"><circle cx="1001" cy="335" r="1.5"/></g>
<g id="n137" class="y"><circle cx="877" cy="353" r="1"/></g>
<g id="n138" class="k"><circle cx="578" cy="337" r="1"/></g>
<g id="n139" class="b"><circle cx="566" cy="358" r="3.5"/></g>
<g id="n140" class="g"><circle cx="1179" cy="0" r="5"/></g>
<g id="n141" class="r"><circle cx="1201" cy="9" r="3.5"/></g>
<g id="n142" class="r"><circle cx="1209" cy="20" r="1"/></g>
<g id="n143" class="g"><circle cx="1288" cy="3" r="3"/></g>
<g id="n144" class="g"><circle cx="1274" cy="20" r="2"/></g>
<g id="n145" class="g"><circle cx="1330" cy="21" r="5.5"/></g>
<g id="n146" class="k"><circle cx="1279" cy="40" r="1"/></g>
<g id="n147" class="y"><circle cx="1064" cy="31" r="5"/></g>
<g id="n148" class="r"><circle cx="1059" cy="33" r="2.5"/></g>
<g id="n149" class="y"><circle cx="1080" cy="47" r="3"/></g>
<g id="n150" class="b"><circle cx="1430" cy="30" r="1.2"/></g>
<g id="n151" class="b"><circle cx="1459" cy="76" r="2.5"/></g>
<g id="n152" class="b"><circle cx="1555" cy="83" r="6"/></g>
<g id="n153" class="y"><circle cx="1150" cy="104" r="1.5"/></g>
<g id="n154" class="b"><circle cx="1099" cy="116" r="4"/></g>
<g id="n155" class="b"><circle cx="1218" cy="110" r="2.5"/></g>
<g id="n156" class="g"><circle cx="1243" cy="134" r="4.5"/></g>
<g id="n157" class="r"><circle cx="1310" cy="112" r="3.5"/></g>
<g id="n158" class="g"><circle cx="1406" cy="119" r="6"/></g>
<g id="n159" class="r"><circle cx="1456" cy="113" r="2.5"/></g>
<g id="n160" class="b"><circle cx="1355" cy="135" r="4.5"/></g>
<g id="n161" class="y"><circle cx="1371" cy="154" r="6"/></g>
<g id="n162" class="k"><circle cx="1438" cy="155" r="1"/></g>
<g id="n163" class="g"><circle cx="1333" cy="183" r="3"/></g>
<g id="n164" class="y"><circle cx="1396" cy="182" r="3.5"/></g>
<g id="n165" class="g"><circle cx="1466" cy="179" r="2.5"/></g>
<g id="n166" class="b"><circle cx="1484" cy="185" r="4.5"/></g>
<g id="n167" class="b"><circle cx="1546" cy="184" r="6"/></g>
<g id="n168" class="g"><circle cx="1560" cy="204" r="1"/></g>
<g id="n169" class="y"><circle cx="1109" cy="166" r="1"/></g>
<g id="n170" class="b"><circle cx="1193" cy="177" r="6"/></g>
<g id="n171" class="g"><circle cx="1204" cy="182" r="6"/></g>
<g id="n172" class="y"><circle cx="1237" cy="226" r="2.5"/></g>
<g id="n173" class="g"><circle cx="1453" cy="228" r="3"/></g>
<g id="n174" class="b"><circle cx="1485" cy="240" r="5"/></g>
<g id="n175" class="g"><circle cx="1551" cy="236" r="2.5"/></g>
<g id="n176" class="b"><circle cx="1563" cy="260" r="5"/></g>
<g id="n177" class="b"><circle cx="1105" cy="242" r="6"/></g>
<g id="n178" class="g"><circle cx="1051" cy="268" r="1.5"/></g>
<g id="n179" class="b"><circle cx="1061" cy="284" r="6.5"/></g>
<g id="n180" class="b"><circle cx="1141" cy="299" r="6.5"/></g>
<g id="n181" class="g"><circle cx="1130" cy="318" r="3"/></g>
<g id="n182" class="r"><circle cx="1142" cy="341" r="5"/></g>
<g id="n183" class="r"><circle cx="1111" cy="354" r="4"/></g>
<g id="n184" class="g"><circle cx="1052" cy="362" r="5"/></g>
<g id="n185" class="g"><circle cx="1283" cy="258" r="3.5"/></g>
<g id="n186" class="b"><circle cx="1358" cy="251" r="3.5"/></g>
<g id="n187" class="b"><circle cx="1390" cy="260" r="6"/></g>
<g id="n188" class="b"><circle cx="1214" cy="309" r="1.5"/></g>
<g id="n189" class="g"><circle cx="1282" cy="336" r="6"/></g>
<g id="n190" class="y"><circle cx="1299" cy="343" r="5"/></g>
<g id="n191" class="r"><circle cx="1358" cy="331" r="3"/></g>
<g id="n192" class="b"><circle cx="1398" cy="338" r="6"/></g>
<g id="n193" class="g"><circle cx="1464" cy="359" r="6"/></g>
<g id="n194" class="y"><circle cx="1536" cy="350" r="6"/></g>
<g id="n195" class="y"><circle cx="355" cy="383" r="3.5"/></g>
<g id="n196" class="g"><circle cx="196" cy="404" r="2"/></g>
<g id="n197" class="b"><circle cx="301" cy="413" r="1"/></g>
<g id="n198" class="g"><circle cx="406" cy="410" r="6"/></g>
<g id="n199" class="b"><circle cx="479" cy="409" r="6"/></g>
<g id="n200" class="b"><circle cx="521" cy="419" r="5"/></g>
<g id="n201" class="r"><circle cx="29" cy="427" r="3.5"/></g>
<g id="n202" class="r"><circle cx="38" cy="447" r="5"/></g>
<g id="n203" class="r"><circle cx="158" cy="421" r="5"/></g>
<g id="n204" class="y"><circle cx="222" cy="432" r="2"/></g>
<g id="n205" class="b"><circle cx="189" cy="448" r="5"/></g>
<g id="n206" class="r"><circle cx="192" cy="458" r="1.5"/></g>
<g id="n207" class="y"><circle cx="126" cy="460" r="6"/></g>
<g id="n208" class="r"><circle cx="105" cy="469" r="4"/></g>
<g id="n209" class="y"><circle cx="147" cy="468" r="2"/></g>
<g id="n210" class="y"><circle cx="171" cy="467" r="2"/></g>
<g id="n211" class="g"><circle cx="318" cy="463" r="5.5"/></g>
<g id="n212" class="b"><circle cx="304" cy="484" r="4.5"/></g>
<g id="n213" class="y"><circle cx="266" cy="492" r="2"/></g>
<g id="n214" class="r"><circle cx="192" cy="507" r="1.5"/></g>
<g id="n215" class="y"><circle cx="229" cy="505" r="1"/></g>
<g id="n216" class="g"><circle cx="440" cy="434" r="1"/></g>
<g id="n217" class="b"><circle cx="488" cy="434" r="6.5"/></g>
<g id="n218" class="r"><circle cx="451" cy="452" r="4.5"/></g>
<g id="n219" class="b"><circle cx="474" cy="479" r="5"/></g>
<g id="n220" class="g"><circle cx="485" cy="474" r="6"/></g>
<g id="n221" class="g"><circle cx="509" cy="484" r="1.5"/></g>
<g id="n222" class="g"><circle cx="411" cy="510" r="1"/></g>
<g id="n223" class="g"><circle cx="482" cy="531" r="6"/></g>
<g id="n224" class="r"><circle cx="480" cy="537" r="3"/></g>
<g id="n225" class="b"><circle cx="291" cy="542" r="4"/></g>
<g id="n226" class="r"><circle cx="323" cy="541" r="1.5"/></g>
<g id="n227" class="g"><circle cx="321" cy="556" r="4.5"/></g>
<g id="n228" class="b"><circle cx="342" cy="556" r="6.5"/></g>
<g id="n229" class="r"><circle cx="324" cy="560" r="2.5"/></g>
<g id="n230" class="b"><circle cx="304" cy="561" r="4"/></g>
<g id="n231" class="r"><circle cx="325" cy="568" r="2"/></g>
<g id="n232" class="y"><circle cx="366" cy="569" r="2.5"/></g>
<g id="n233" class="g"><circle cx="439" cy="559" r="1"/></g>
<g id="n234" class="b"><circle cx="453" cy="561" r="6.5"/></g>
<g id="n235" class="r"><circle cx="441" cy="578" r="6.5"/></g>
<g id="n236" class="y"><circle cx="427" cy="573" r="1"/></g>
<g id="n237" class="y"><circle cx="467" cy="579" r="2.5"/></g>
<g id="n238" class="y"><circle cx="369" cy="603" r="5"/></g>
<g id="n239" class="y"><circle cx="368" cy="607" r="5"/></g>
<g id="n240" class="g"><circle cx="440" cy="608" r="1"/></g>
<g id="n241" class="y"><circle cx="347" cy="634" r="1"/></g>
<g id="n242" class="g"><circle cx="371" cy="629" r="1"/></g>
<g id="n243" class="y"><circle cx="489" cy="629" r="2.5"/></g>
<g id="n244" class="r"><circle cx="391" cy="650" r="5.5"/></g>
<g id="n245" class="b"><circle cx="380" cy="654" r="6"/></g>
<g id="n246" class="b"><circle cx="416" cy="646" r="3"/></g>
<g id="n247" class="b"><circle cx="399" cy="671" r="6.5"/></g>
<g id="n248" class="b"><circle cx="311" cy="679" r="4"/></g>
<g id="n249" class="b"><circle cx="324" cy="687" r="2"/></g>
<g id="n250" class="b"><circle cx="356" cy="708" r="6.5"/></g>
<g id="n251" class="b"><circle cx="76" cy="573" r="4.5"/></g>
<g id="n252" class="r"><circle cx="124" cy="573" r="1"/></g>
<g id="n253" class="r"><circle cx="146" cy="569" r="4.5"/></g>
<g id="n254" class="b"><circle cx="160" cy="565" r="3"/></g>
<g id="n255" class="b"><circle cx="205" cy="567" r="1.5"/></g>
<g id="n256" class="b"><circle cx="175" cy="579" r="3.5"/></g>
<g id="n257" class="r"><circle cx="51" cy="648" r="1"/></g>
<g id="n258" class="r"><circle cx="118" cy="654" r="1.5"/></g>
<g id="n259" class="b"><circle cx="237" cy="647" r="1"/></g>
<g id="n260" class="y"><circle cx="204" cy="670" r="1.5"/></g>
<g id="n261" class="y"><circle cx="221" cy="672" r="5"/></g>
<g id="n262" class="g"><circle cx="174" cy="689" r="5"/></g>
<g id="n263" class="k"><circle cx="216" cy="687" r="1"/></g>
<g id="n264" class="r"><circle cx="243" cy="703" r="3"/></g>
<g id="n265" class="g"><circle cx="257" cy="710" r="6"/></g>
<g id="n266" class="r"><circle cx="83" cy="702" r="4"/></g>
<g id="n267" class="g"><circle cx="99" cy="719" r="6.5"/></g>
<g id="n268" class="g"><circle cx="74" cy="730" r="5.5"/></g>
<g id="n269" class="g"><circle cx="168" cy="712" r="4"/></g>
<g id="n270" class="g"><circle cx="164" cy="716" r="4"/></g>
<g id="n271" class="g"><circle cx="480" cy="733" r="2.5"/></g>
<g id="n272" class="r"><circle cx="505" cy="731" r="5"/></g>
<g id="n273" class="b"><circle cx="483" cy="751" r="5"/></g>
<g id="n274" class="g"><circle cx="521" cy="702" r="5"/></g>
<g id="n275" class="g"><circle cx="555" cy="400" r="1.5"/></g>
<g id="n276" class="y"><circle cx="553" cy="412" r="5"/></g>
<g id="n277" class="r"><circle cx="563" cy="385" r="1"/></g>
<g id="n278" class="g"><circle cx="655" cy="412" r="3"/></g>
<g id="n279" class="g"><circle cx="652" cy="436" r="1.5"/></g>
<g id="n280" class="b"><circle cx="751" cy="398" r="6.5"/></g>
<g id="n281" class="r"><circle cx="713" cy="446" r="6"/></g>
<g id="n282" class="b"><circle cx="775" cy="475" r="6.5"/></g>
<g id="n283" class="k"><circle cx="584" cy="479" r="1"/></g>
<g id="n284" class="y"><circle cx="690" cy="499" r="1"/></g>
<g id="n285" class="g"><circle cx="568" cy="544" r="3.5"/></g>
<g id="n286" class="b"><circle cx="584" cy="598" r="3.5"/></g>
<g id="n287" class="k"><circle cx="656" cy="572" r="1"/></g>
<g id="n288" class="b"><circle cx="717" cy="591" r="1.5"/></g>
<g id="n289" class="r"><circle cx="773" cy="527" r="6.5"/></g>
<g id="n290" class="b"><circle cx="817" cy="512" r="4.5"/></g>
<g id="n291" class="b"><circle cx="805" cy="523" r="3.5"/></g>
<g id="n292" class="y"><circle cx="846" cy="495" r="5"/></g>
<g id="n293" class="r"><circle cx="877" cy="483" r="2"/></g>
<g id="n294" class="y"><circle cx="859" cy="518" r="3"/></g>
<g id="n295" class="r"><circle cx="882" cy="523" r="2"/></g>
<g id="n296" class="y"><circle cx="820" cy="544" r="4.5"/></g>
<g id="n297" class="b"><circle cx="877" cy="544" r="5.5"/></g>
<g id="n298" class="r"><circle cx="836" cy="561" r="1.5"/></g>
<g id="n299" class="y"><circle cx="865" cy="573" r="1.5"/></g>
<g id="n300" class="b"><circle cx="803" cy="588" r="6"/></g>
<g id="n301" class="b"><circle cx="898" cy="455" r="4.5"/></g>
<g id="n302" class="g"><circle cx="916" cy="428" r="1.5"/></g>
<g id="n303" class="y"><circle cx="974" cy="386" r="6.5"/></g>
<g id="n304" class="g"><circle cx="1020" cy="415" r="1"/></g>
<g id="n305" class="b"><circle cx="1029" cy="410" r="2"/></g>
<g id="n306" class="r"><circle cx="1020" cy="450" r="5"/></g>
<g id="n307" class="b"><circle cx="1023" cy="472" r="4"/></g>
<g id="n308" class="g"><circle cx="1035" cy="475" r="5"/></g>
<g id="n309" class="b"><circle cx="1020" cy="519" r="5"/></g>
<g id="n310" class="y"><circle cx="1031" cy="519" r="1"/></g>
<g id="n311" class="g"><circle cx="1044" cy="570" r="4"/></g>
<g id="n312" class="g"><circle cx="1031" cy="590" r="1"/></g>
<g id="n313" class="k"><circle cx="962" cy="591" r="1"/></g>
<g id="n314" class="r"><circle cx="708" cy="632" r="4"/></g>
<g id="n315" class="y"><circle cx="767" cy="650" r="4.5"/></g>
<g id="n316" class="r"><circle cx="785" cy="653" r="2"/></g>
<g id="n317" class="y"><circle cx="836" cy="634" r="4.5"/></g>
<g id="n318" class="r"><circle cx="917" cy="634" r="4.5"/></g>
<g id="n319" class="r"><circle cx="930" cy="653" r="4.5"/></g>
<g id="n320" class="b"><circle cx="960" cy="662" r="5"/></g>
<g id="n321" class="r"><circle cx="1042" cy="657" r="4"/></g>
<g id="n322" class="g"><circle cx="768" cy="682" r="5.5"/></g>
<g id="n323" class="r"><circle cx="756" cy="694" r="3.5"/></g>
<g id="n324" class="y"><circle cx="745" cy="714" r="5"/></g>
<g id="n325" class="r"><circle cx="759" cy="724" r="5"/></g>
<g id="n326" class="r"><circle cx="667" cy="715" r="6.5"/></g>
<g id="n327" class="r"><circle cx="644" cy="710" r="1"/></g>
<g id="n328" class="b"><circle cx="861" cy="687" r="2"/></g>
<g id="n329" class="r"><circle cx="918" cy="699" r="6.5"/></g>
<g id="n330" class="y"><circle cx="887" cy="721" r="1.5"/></g>
<g id="n331" class="y"><circle cx="905" cy="730" r="4.5"/></g>
<g id="n332" class="y"><circle cx="797" cy="749" r="4"/></g>
<g id="n333" class="k"><circle cx="807" cy="756" r="1"/></g>
<g id="n334" class="b"><circle cx="573" cy="737" r="1.5"/></g>
<g id="n335" class="g"><circle cx="526" cy="687" r="4"/></g>
<g id="n336" class="y"><circle cx="523" cy="639" r="1.5"/></g>
<g id="n338" class="b"><circle cx="994" cy="762" r="4"/></g>
<g id="n337" class="g"><circle cx="994" cy="756" r="3.5"/></g>
<g id="n339" class="b"><circle cx="1105" cy="389" r="6"/></g>
<g id="n340" class="r"><circle cx="1235" cy="389" r="2.5"/></g>
<g id="n341" class="g"><circle cx="1215" cy="399" r="1"/></g>
<g id="n342" class="r"><circle cx="1085" cy="414" r="4"/></g>
<g id="n343" class="y"><circle cx="1055" cy="458" r="2"/></g>
<g id="n344" class="y"><circle cx="1070" cy="492" r="6.5"/></g>
<g id="n345" class="g"><circle cx="1076" cy="503" r="2.5"/></g>
<g id="n346" class="y"><circle cx="1113" cy="494" r="1.5"/></g>
<g id="n347" class="y"><circle cx="1170" cy="456" r="6.5"/></g>
<g id="n348" class="r"><circle cx="1088" cy="570" r="3.5"/></g>
<g id="n349" class="r"><circle cx="1206" cy="538" r="1.5"/></g>
<g id="n350" class="y"><circle cx="1197" cy="600" r="6"/></g>
<g id="n351" class="y"><circle cx="1180" cy="619" r="3"/></g>
<g id="n352" class="b"><circle cx="1200" cy="626" r="1.5"/></g>
<g id="n353" class="y"><circle cx="1205" cy="624" r="3"/></g>
<g id="n354" class="r"><circle cx="1152" cy="658" r="2.5"/></g>
<g id="n355" class="g"><circle cx="1151" cy="700" r="3.5"/></g>
<g id="n356" class="y"><circle cx="1338" cy="453" r="5"/></g>
<g id="n357" class="r"><circle cx="1419" cy="417" r="1"/></g>
<g id="n358" class="g"><circle cx="1425" cy="431" r="3"/></g>
<g id="n359" class="g"><circle cx="1460" cy="442" r="6.5"/></g>
<g id="n360" class="b"><circle cx="1515" cy="445" r="6"/></g>
<g id="n361" class="y"><circle cx="1551" cy="396" r="1.5"/></g>
<g id="n362" class="g"><circle cx="1568" cy="412" r="3"/></g>
<g id="n363" class="g"><circle cx="1537" cy="469" r="3.5"/></g>
<g id="n364" class="y"><circle cx="1556" cy="472" r="3"/></g>
<g id="n365" class="g"><circle cx="1467" cy="474" r="1"/></g>
<g id="n366" class="b"><circle cx="1390" cy="484" r="1"/></g>
<g id="n367" class="r"><circle cx="1513" cy="497" r="4"/></g>
<g id="n368" class="g"><circle cx="1330" cy="516" r="3.5"/></g>
<g id="n369" class="g"><circle cx="1364" cy="562" r="1.5"/></g>
<g id="n370" class="y"><circle cx="1523" cy="569" r="6"/></g>
<g id="n371" class="b"><circle cx="1443" cy="623" r="6.5"/></g>
<g id="n372" class="b"><circle cx="1543" cy="685" r="5"/></g>
<g id="n373" class="g"><circle cx="1318" cy="697" r="1.5"/></g>
<g id="n374" class="r"><circle cx="1308" cy="706" r="5"/></g>
<g id="n375" class="r"><circle cx="1402" cy="703" r="5"/></g>
<g id="n376" class="r"><circle cx="1374" cy="725" r="4"/></g>
<g id="n377" class="r"><circle cx="1407" cy="736" r="7"/></g>
<g id="n378" class="y"><circle cx="1479" cy="735" r="5"/></g>
<g id="n379" class="r"><circle cx="1537" cy="750" r="4.5"/></g>
<g id="n380" class="g"><circle cx="1292" cy="759" r="3"/></g>
</g>
</g>
</svg>
